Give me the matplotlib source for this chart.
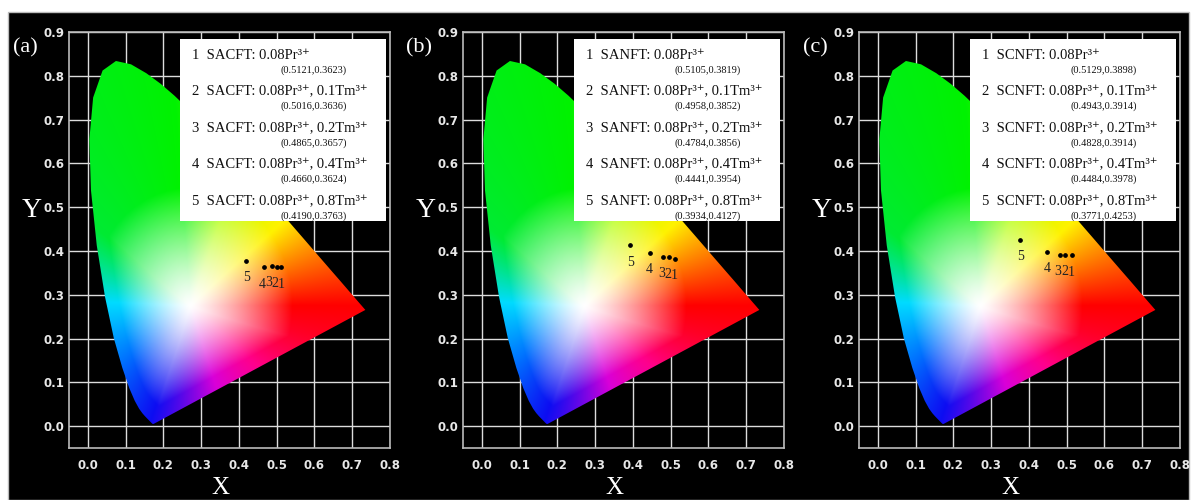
import numpy as np
import matplotlib
matplotlib.use("Agg")
from matplotlib import pyplot as plt
from matplotlib.patches import Polygon, Rectangle

# ---------------------------------------------------------------------------
# data
# CIE 1931 spectral locus (x, y), 380-700 nm every 5 nm
locus_x = [0.1741, 0.1740, 0.1738, 0.1736, 0.1733, 0.1730, 0.1726, 0.1721, 0.1714, 0.1703,
           0.1689, 0.1669, 0.1644, 0.1611, 0.1566, 0.1510, 0.1440, 0.1355, 0.1241, 0.1096,
           0.0913, 0.0687, 0.0454, 0.0235, 0.0082, 0.0039, 0.0139, 0.0389, 0.0743, 0.1142,
           0.1547, 0.1929, 0.2296, 0.2658, 0.3016, 0.3373, 0.3731, 0.4087, 0.4441, 0.4788,
           0.5125, 0.5448, 0.5752, 0.6029, 0.6270, 0.6482, 0.6658, 0.6801, 0.6915, 0.7006,
           0.7079, 0.7140, 0.7190, 0.7230, 0.7260, 0.7283, 0.7300, 0.7311, 0.7320, 0.7327,
           0.7334, 0.7340, 0.7344, 0.7346, 0.7347]
locus_y = [0.0050, 0.0050, 0.0049, 0.0049, 0.0048, 0.0048, 0.0048, 0.0048, 0.0051, 0.0058,
           0.0069, 0.0086, 0.0109, 0.0138, 0.0177, 0.0227, 0.0297, 0.0399, 0.0578, 0.0868,
           0.1327, 0.2007, 0.2950, 0.4127, 0.5384, 0.6548, 0.7502, 0.8120, 0.8338, 0.8262,
           0.8059, 0.7816, 0.7543, 0.7243, 0.6923, 0.6589, 0.6245, 0.5896, 0.5547, 0.5202,
           0.4866, 0.4544, 0.4242, 0.3965, 0.3725, 0.3514, 0.3340, 0.3197, 0.3083, 0.2993,
           0.2920, 0.2859, 0.2809, 0.2770, 0.2740, 0.2717, 0.2700, 0.2689, 0.2680, 0.2673,
           0.2666, 0.2660, 0.2656, 0.2654, 0.2653]

panel_tags = ["(a)", "(b)", "(c)"]
hosts = ["SACFT", "SANFT", "SCNFT"]
sample_ids = ["1", "2", "3", "4", "5"]
tm_conc = ["", "0.1", "0.2", "0.4", "0.8"]

cie_x = [
    [0.5121, 0.5016, 0.4865, 0.4660, 0.4190],
    [0.5105, 0.4958, 0.4784, 0.4441, 0.3934],
    [0.5129, 0.4943, 0.4828, 0.4484, 0.3771],
]
cie_y = [
    [0.3623, 0.3636, 0.3657, 0.3624, 0.3763],
    [0.3819, 0.3852, 0.3856, 0.3954, 0.4127],
    [0.3898, 0.3914, 0.3914, 0.3978, 0.4253],
]

x_ticks = [0.0, 0.1, 0.2, 0.3, 0.4, 0.5, 0.6, 0.7, 0.8]
y_ticks = [0.0, 0.1, 0.2, 0.3, 0.4, 0.5, 0.6, 0.7, 0.8, 0.9]

# ---------------------------------------------------------------------------
SERIF = ['Liberation Serif', 'DejaVu Serif']
TICKFONT = ['Liberation Sans Narrow', 'DejaVu Sans']

W, H = 1197, 500
fig = plt.figure(figsize=(W / 100, H / 100), dpi=100)
fig.patch.set_facecolor('white')
bg = Rectangle((8 / W, 0), (1189 - 8) / W, (H - 12) / H,
               transform=fig.transFigure, facecolor='black',
               edgecolor='#bbbbbb', linewidth=1.0, zorder=-10)
fig.patches.append(bg)

# chromaticity colour image: hue by angle round the white spot, saturation by distance
XMIN, XMAX, YMIN, YMAX = -0.05, 0.8, -0.05, 0.9
WX, WY = 0.272, 0.275
gx, gy = np.meshgrid(np.linspace(XMIN, XMAX, 500), np.linspace(YMIN, YMAX, 560))
ang = np.degrees(np.arctan2(gy - WY, gx - WX)) % 360
hue_deg = [0, 18, 38, 68, 95, 145, 178, 215, 248, 290, 322, 348, 360]
hue_rgb = [(1.0, 0.0, 0.0), (1.0, 0.45, 0.0), (1.0, 0.95, 0.0), (0.7, 1.0, 0.0),
           (0.0, 0.95, 0.0), (0.0, 0.92, 0.2), (0.0, 0.86, 1.0), (0.0, 0.45, 1.0),
           (0.05, 0.05, 0.95), (0.85, 0.0, 0.85), (1.0, 0.0, 0.55), (1.0, 0.0, 0.15),
           (1.0, 0.0, 0.0)]
hue_rgb = np.array(hue_rgb)
rgb = np.stack([np.interp(ang, hue_deg, hue_rgb[:, c]) for c in range(3)], axis=-1)
d = np.hypot(gx - WX, gy - WY)

# distance from the white spot to the edge of the horseshoe, per direction
px = np.append(locus_x, locus_x[0])
py = np.append(locus_y, locus_y[0])
tt = np.linspace(0, 1, 40)[:-1]
ex = np.concatenate([px[j] + (px[j + 1] - px[j]) * tt for j in range(len(px) - 1)])
ey = np.concatenate([py[j] + (py[j + 1] - py[j]) * tt for j in range(len(py) - 1)])
e_ang = np.degrees(np.arctan2(ey - WY, ex - WX)) % 360
e_dist = np.hypot(ex - WX, ey - WY)
order = np.argsort(e_ang)
dmax = np.interp(ang, e_ang[order], e_dist[order], period=360)

s_abs = np.clip(d / 0.27, 0, 1) ** 1.25
s_rel = np.clip(d / (0.85 * dmax), 0, 1) ** 1.3
s = np.maximum(s_abs, s_rel)[..., None]
rgb = 1 - (1 - rgb) * s

ax_left = [69, 463, 859]
for k in range(3):
    ax = fig.add_axes([ax_left[k] / W, 1 - 448 / H, 321 / W, 416 / H], zorder=1)
    ax.set_facecolor('black')
    ax.set_xlim(XMIN, XMAX)
    ax.set_ylim(YMIN, YMAX)
    ax.set_xticks(x_ticks)
    ax.set_yticks(y_ticks)
    ax.set_xticklabels([f"{v:.1f}" for v in x_ticks])
    ax.set_yticklabels([f"{v:.1f}" for v in y_ticks])
    ax.tick_params(length=0, colors='#e8e8e8', labelsize=8.5, pad=3)
    for lab in ax.get_xticklabels() + ax.get_yticklabels():
        lab.set_family(TICKFONT)
        lab.set_fontweight('bold')
    ax.tick_params(axis='x', pad=8)
    for sp in ax.spines.values():
        sp.set_color('#bbbbbb')
        sp.set_linewidth(1.2)
    ax.grid(True, color='#dddddd', linewidth=1.0)
    ax.set_axisbelow(True)

    # horseshoe
    poly = Polygon(np.column_stack([locus_x, locus_y]), closed=True,
                   transform=ax.transData, facecolor='none', edgecolor='none')
    im = ax.imshow(rgb, extent=[XMIN, XMAX, YMIN, YMAX], origin='lower',
                   interpolation='bilinear', aspect='auto', zorder=2)
    im.set_clip_path(poly)

    # legend box
    ax.add_patch(Rectangle((0.243, 0.468), 0.547, 0.416, facecolor='white',
                           edgecolor='none', zorder=3))
    for i in range(5):
        line = f"{sample_ids[i]}  {hosts[k]}: 0.08Pr³⁺"
        if tm_conc[i]:
            line += f", {tm_conc[i]}Tm³⁺"
        yl = 0.847 - i * 0.0834
        ax.text(0.275, yl, line, family=SERIF, fontsize=10.5, color='#111111',
                va='center', ha='left', zorder=4)
        ax.text(0.597, yl - 0.034, f"({cie_x[k][i]:.4f},{cie_y[k][i]:.4f})",
                family=SERIF, fontsize=7.5, color='#111111',
                va='center', ha='center', zorder=4)

    # points
    ax.plot(cie_x[k], cie_y[k], 'o', color='black', markersize=2.4, zorder=5)
    prev = None
    for i in range(5):
        lx = cie_x[k][i]
        if prev is not None:
            lx = min(lx, prev - 0.017)
        prev = lx
        ax.text(lx, cie_y[k][i] - 0.038, sample_ids[i], family=SERIF, fontsize=10,
                color='#222222', ha='center', va='center', zorder=5)

    # labels
    fig.text((ax_left[k] - 37) / W, 1 - 211 / H, "Y", family=SERIF, fontsize=20,
             color='white', ha='center', va='center')
    fig.text((ax_left[k] + 151) / W, 1 / H, "X", family=SERIF, fontsize=18,
             color='white', ha='center', va='bottom')
    fig.text((ax_left[k] - 44) / W, 1 - 48 / H, panel_tags[k], family=SERIF,
             fontsize=16, color='white', ha='center', va='center')

fig.savefig("out.png", dpi=100, facecolor=fig.get_facecolor())
